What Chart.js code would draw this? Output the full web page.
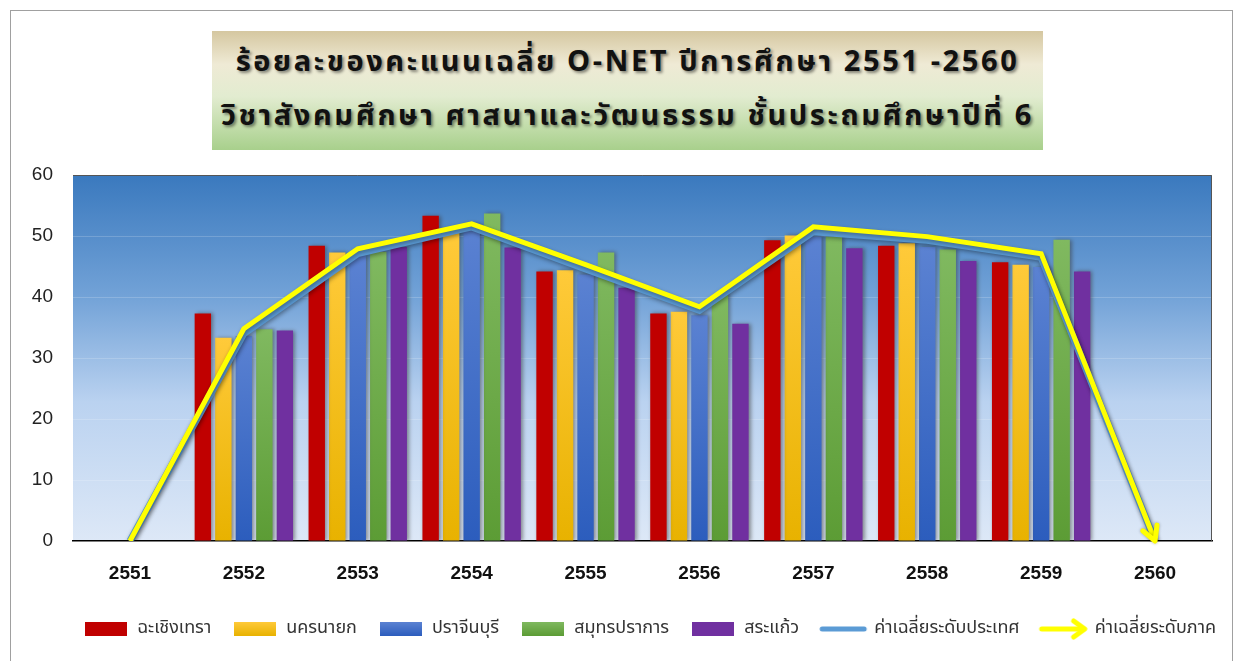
<!DOCTYPE html>
<html lang="th">
<head>
<meta charset="utf-8">
<script src="https://cdn.jsdelivr.net/npm/chart.js@4.4.1/dist/chart.umd.min.js"></script>
<style>
  html, body { margin: 0; padding: 0; background: #fff; }
  #wrap { position: relative; width: 1238px; height: 661px; overflow: hidden; }
  #frame { position: absolute; left: 10px; top: 10px; width: 1221px; height: 700px; border: 1px solid #a0a0a0; }
  #title {
    position: absolute; left: 212px; top: 31px; width: 831px; height: 119px;
    background: linear-gradient(to bottom, #d5c7a0 0%, #efead5 28%, #e2ecd0 55%, #a8d08c 100%);
    font-family: "Noto Sans Thai", "Noto Sans", "DejaVu Sans", sans-serif;
    font-weight: bold; font-size: 29px; color: #111; text-align: center;
    text-shadow: 2px 2px 3px rgba(0,0,0,0.45); letter-spacing: 2.6px;
    white-space: nowrap;
  }
  #title div { position: absolute; left: 0; width: 100%; line-height: 40px; }
  canvas { position: absolute; left: 0; top: 0; }
</style>
</head>
<body>
<div id="wrap">
  <div id="frame"></div>
  <div id="title">
    <div style="top:31px;transform:translateY(-50%)">ร้อยละของคะแนนเฉลี่ย O-NET ปีการศึกษา 2551 -2560</div>
    <div style="top:85px;transform:translateY(-50%)">วิชาสังคมศึกษา ศาสนาและวัฒนธรรม ชั้นประถมศึกษาปีที่ 6</div>
  </div>
  <canvas id="resultChart" width="1238" height="661"></canvas>
</div>
<script>
// ข้อมูลจากกราฟ (ค่าโดยประมาณ)
const years = ["2551", "2552", "2553", "2554", "2555", "2556", "2557", "2558", "2559", "2560"];
const chachoengsao = [null, 37.3, 48.4, 53.3, 44.2, 37.3, 49.3, 48.4, 45.7, null];
const nakhonNayok = [null, 33.3, 47.3, 51.0, 44.4, 37.6, 50.1, 48.8, 45.3, null];
const prachinburi = [null, 33.6, 46.8, 52.0, 43.7, 37.0, 49.9, 48.2, 44.9, null];
const samutPrakan = [null, 34.7, 47.4, 53.7, 47.3, 40.3, 49.9, 47.8, 49.4, null];
const sakaeo = [null, 34.5, 48.2, 48.1, 41.5, 35.6, 48.0, 45.9, 44.2, null];
const nationalAvg = [0, 34.0, 47.1, 51.5, 44.6, 37.8, 50.7, 49.3, 46.5, 0];
const regionalAvg = [0, 34.8, 47.9, 52.0, 45.3, 38.4, 51.5, 49.9, 47.1, 0];
const yTicks = [0, 10, 20, 30, 40, 50, 60];

const thaiFont = '"Noto Sans Thai", "Noto Sans", "DejaVu Sans", sans-serif';

// แท่งกราฟไล่สีจากบนลงล่างทีละแท่ง
function barGradient(top, bottom) {
  return (context) => {
    const chart = context.chart;
    const v = context.raw;
    if (!chart.chartArea || v == null) return bottom;
    const y = chart.scales.y;
    const g = chart.ctx.createLinearGradient(0, y.getPixelForValue(v), 0, y.getPixelForValue(0));
    g.addColorStop(0, top);
    g.addColorStop(1, bottom);
    return g;
  };
}

// ไอคอนของ legend
function boxIcon(top, bottom) {
  const c = document.createElement("canvas");
  c.width = 42; c.height = 14;
  const g = c.getContext("2d");
  const gr = g.createLinearGradient(0, 0, 0, 14);
  gr.addColorStop(0, top); gr.addColorStop(1, bottom);
  g.fillStyle = gr;
  g.fillRect(0, 0, 42, 14);
  return c;
}
function lineIcon() {
  const c = document.createElement("canvas");
  c.width = 50; c.height = 10;
  const g = c.getContext("2d");
  g.strokeStyle = "#5b9bd5"; g.lineWidth = 5; g.lineCap = "round";
  g.beginPath(); g.moveTo(4, 5); g.lineTo(46, 5); g.stroke();
  return c;
}
function arrowIcon() {
  const c = document.createElement("canvas");
  c.width = 52; c.height = 24;
  const g = c.getContext("2d");
  g.strokeStyle = "#ffff00"; g.lineWidth = 5; g.lineCap = "round"; g.lineJoin = "round";
  g.beginPath(); g.moveTo(4, 12); g.lineTo(46, 12); g.stroke();
  g.beginPath(); g.moveTo(36, 4); g.lineTo(47, 12); g.lineTo(36, 20); g.stroke();
  return c;
}

const colors = [
  ["#c00000", "#c00000"],
  ["#ffca3a", "#e8b200"],
  ["#5b82d2", "#2c5dbd"],
  ["#80b960", "#5c9c35"],
  ["#7030a0", "#7030a0"],
];
const icons = colors.map((c) => boxIcon(c[0], c[1])).concat([lineIcon(), arrowIcon()]);

// พื้นหลังพื้นที่กราฟ
const plotBackground = {
  id: "plotBackground",
  beforeDraw(chart) {
    const { ctx, chartArea: a } = chart;
    const g = ctx.createLinearGradient(0, a.top, 0, a.bottom);
    g.addColorStop(0, "#3a79be");
    g.addColorStop(0.33, "#72a2d7");
    g.addColorStop(0.62, "#bad2f0");
    g.addColorStop(1, "#dde8f7");
    ctx.save();
    ctx.fillStyle = g;
    ctx.fillRect(a.left, a.top, a.right - a.left, a.bottom - a.top);
    ctx.restore();
  },
  afterDraw(chart) {
    const { ctx, chartArea: a } = chart;
    ctx.save();
    ctx.strokeStyle = "#555";
    ctx.lineWidth = 1;
    ctx.beginPath();
    ctx.moveTo(a.left, a.top + 0.5);
    ctx.lineTo(a.right - 0.5, a.top + 0.5);
    ctx.lineTo(a.right - 0.5, a.bottom);
    ctx.stroke();
    ctx.restore();
  },
};

// เงาของแท่งและเส้น
const shadows = {
  id: "shadows",
  beforeDatasetDraw(chart, args) {
    const ctx = chart.ctx;
    ctx.save();
    if (args.meta.type === "bar") {
      ctx.shadowColor = "rgba(60,60,60,0.55)";
      ctx.shadowBlur = 4;
      ctx.shadowOffsetX = 2;
      ctx.shadowOffsetY = 0;
    } else {
      ctx.shadowColor = "rgba(0,0,0,0.35)";
      ctx.shadowBlur = 4;
      ctx.shadowOffsetX = 1;
      ctx.shadowOffsetY = 2;
    }
  },
  afterDatasetDraw(chart) {
    chart.ctx.restore();
  },
};

// หัวลูกศรที่ปลายเส้นค่าเฉลี่ยระดับภาค
const arrowHead = {
  id: "arrowHead",
  afterDatasetsDraw(chart) {
    const meta = chart.getDatasetMeta(6);
    const pts = meta.data;
    if (!pts || pts.length < 2) return;
    const p = pts[pts.length - 1];
    const q = pts[pts.length - 2];
    const ang = Math.atan2(p.y - q.y, p.x - q.x);
    const len = 16;
    const ctx = chart.ctx;
    ctx.save();
    ctx.strokeStyle = "#ffff00";
    ctx.lineWidth = 5;
    ctx.lineCap = "round";
    ctx.lineJoin = "round";
    ctx.shadowColor = "rgba(0,0,0,0.3)";
    ctx.shadowBlur = 3;
    ctx.beginPath();
    ctx.moveTo(p.x - len * Math.cos(ang - 0.5), p.y - len * Math.sin(ang - 0.5));
    ctx.lineTo(p.x, p.y);
    ctx.lineTo(p.x - len * Math.cos(ang + 0.5), p.y - len * Math.sin(ang + 0.5));
    ctx.stroke();
    ctx.restore();
  },
};

const barNames = ["ฉะเชิงเทรา", "นครนายก", "ปราจีนบุรี", "สมุทรปราการ", "สระแก้ว"];
const barData = [chachoengsao, nakhonNayok, prachinburi, samutPrakan, sakaeo];

const datasets = barNames.map((name, i) => ({
  type: "bar",
  label: name,
  data: barData[i],
  backgroundColor: barGradient(colors[i][0], colors[i][1]),
  borderWidth: 0,
  categoryPercentage: 0.9,
  barPercentage: 0.8,
  order: 2,
}));
datasets.push({
  type: "line",
  label: "ค่าเฉลี่ยระดับประเทศ",
  data: nationalAvg,
  borderColor: "#5b9bd5",
  borderWidth: 7,
  pointRadius: 0,
  tension: 0,
  order: 1,
});
datasets.push({
  type: "line",
  label: "ค่าเฉลี่ยระดับภาค",
  data: regionalAvg,
  borderColor: "#ffff00",
  borderWidth: 5,
  pointRadius: 0,
  tension: 0,
  borderJoinStyle: "miter",
  order: 0,
});

const ctx = document.getElementById("resultChart").getContext("2d");
new Chart(ctx, {
  data: { labels: years, datasets: datasets },
  options: {
    responsive: false,
    animation: false,
    layout: { padding: { top: 175, right: 0, left: 0, bottom: 13 } },
    scales: {
      x: {
        offset: true,
        grid: { display: false, drawTicks: false },
        border: { display: true, color: "#000", width: 1.5 },
        ticks: { padding: 21, color: "#111", font: { family: "Liberation Sans, Arial, sans-serif", size: 19, weight: "bold" } },
        afterFit: (s) => { s.height = 57; },
      },
      y: {
        min: 0,
        max: 60,
        afterBuildTicks: (s) => { s.ticks = yTicks.map((v) => ({ value: v })); },
        grid: { color: "rgba(255,255,255,0.18)", drawTicks: false },
        border: { display: false },
        ticks: { padding: 20, color: "#222", font: { family: "Liberation Sans, Arial, sans-serif", size: 19 } },
        afterFit: (s) => { s.width = 73; },
      },
      // แกนว่างด้านขวา ใช้เว้นระยะขอบขวาของพื้นที่กราฟ
      yRight: {
        position: "right",
        min: 0,
        max: 60,
        grid: { display: false, drawTicks: false },
        border: { display: false },
        ticks: { display: false },
        afterFit: (s) => { s.width = 26; },
      },
    },
    plugins: {
      title: { display: false },
      tooltip: { enabled: false },
      legend: {
        position: "bottom",
        align: "end",
        labels: {
          usePointStyle: true,
          pointStyleWidth: 44,
          padding: 22,
          color: "#333",
          font: { family: thaiFont, size: 18 },
          generateLabels: (chart) =>
            chart.data.datasets.map((d, i) => ({
              text: d.label,
              pointStyle: icons[i],
              fontColor: "#333",
              datasetIndex: i,
              hidden: false,
              lineWidth: 0,
            })),
        },
      },
    },
  },
  plugins: [plotBackground, shadows, arrowHead],
});
</script>
</body>
</html>
